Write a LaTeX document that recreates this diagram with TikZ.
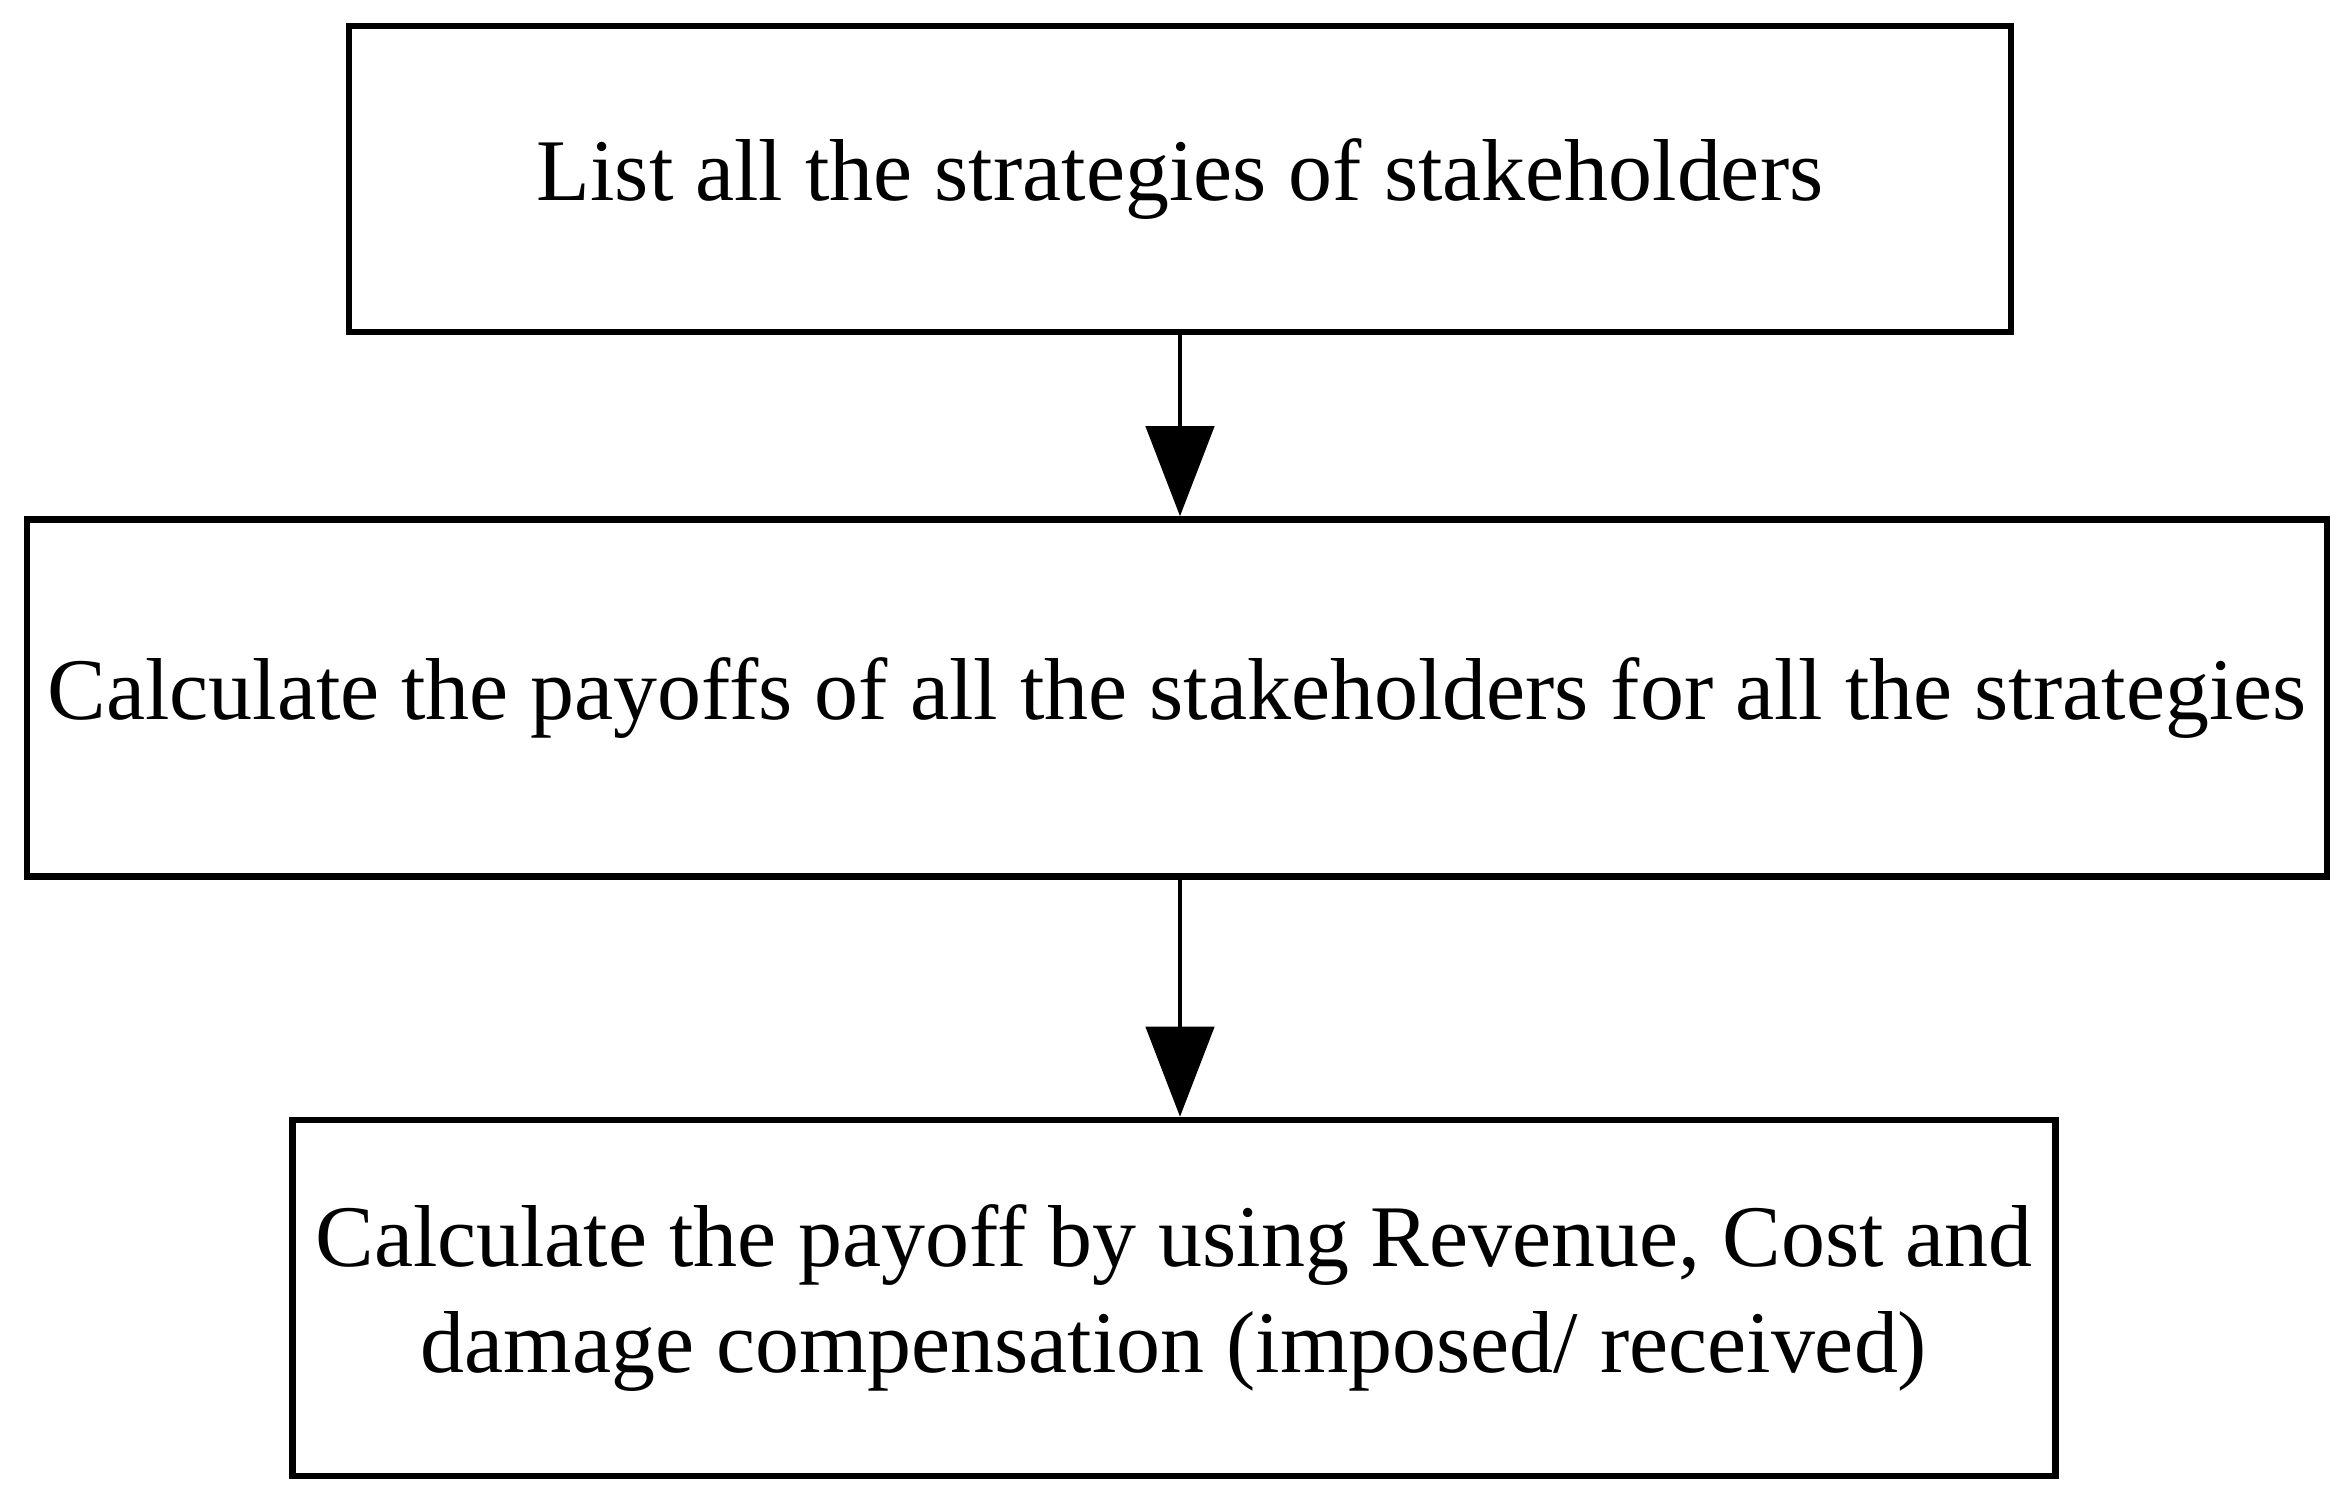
\documentclass[tikz,border=0pt]{standalone}
\usepackage{fontspec}
\setmainfont{Liberation Serif}
\usetikzlibrary{arrows.meta}

\begin{document}
\begin{tikzpicture}[x=0.01cm, y=-0.01cm,
        box/.style={draw, line width=1.8pt, inner sep=0pt, align=center,
            font=\fontsize{25}{30}\selectfont},
        flow/.style={line width=1.3pt, -{Triangle[width=0.68cm, length=0.9cm]}}]
    \useasboundingbox (0, 0) rectangle (2350, 1499);
    \node[box, minimum width=16.61cm, minimum height=3.06cm] (list) at (1180, 179)
        {List all the strategies of stakeholders};
    \node[box, minimum width=22.99cm, minimum height=3.57cm] (payoff) at (1177, 698)
        {Calculate the payoffs of all the stakeholders for all the strategies};
    \node[box, minimum width=17.62cm, minimum height=3.56cm] (calc) at (1174, 1298)
        {Calculate the payoff by using Revenue, Cost and\\damage compensation (imposed/ received)};
    \draw[flow] (list.south) -- (list.south |- payoff.north);
    \draw[flow] (list.south |- payoff.south) -- (list.south |- calc.north);
\end{tikzpicture}
\end{document}
